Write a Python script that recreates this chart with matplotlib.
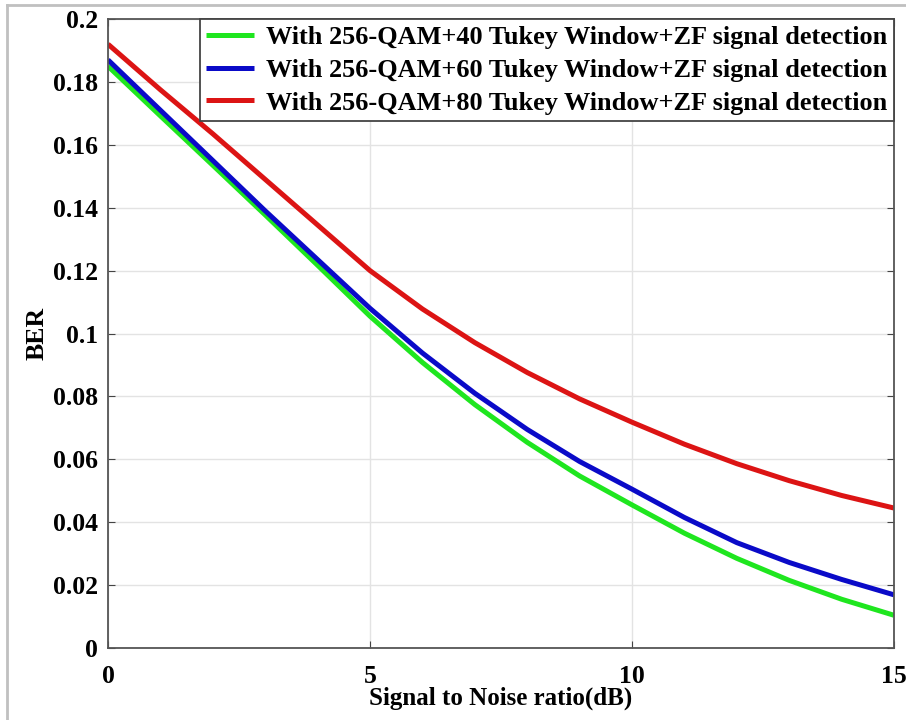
import matplotlib.pyplot as plt
from matplotlib.lines import Line2D

snr = [0, 1, 2, 3, 4, 5, 6, 7, 8, 9, 10, 11, 12, 13, 14, 15]
ber_40 = [0.185, 0.1692, 0.1535, 0.1377, 0.1217, 0.1055, 0.0908, 0.0774,
          0.0654, 0.0547, 0.0455, 0.0365, 0.0285, 0.0215, 0.0155, 0.0104]
ber_60 = [0.187, 0.171, 0.155, 0.139, 0.1235, 0.108, 0.0938, 0.0810,
          0.0695, 0.0593, 0.0505, 0.0415, 0.0335, 0.0272, 0.0218, 0.0169]
ber_80 = [0.192, 0.1775, 0.1635, 0.149, 0.1345, 0.120, 0.1078, 0.0971,
          0.0876, 0.0792, 0.0718, 0.0648, 0.0586, 0.0532, 0.0485, 0.0445]
labels = ['With 256-QAM+40 Tukey Window+ZF signal detection',
          'With 256-QAM+60 Tukey Window+ZF signal detection',
          'With 256-QAM+80 Tukey Window+ZF signal detection']

plt.rcParams['font.family'] = ['Liberation Serif', 'DejaVu Serif']
plt.rcParams['font.weight'] = 'bold'

fig = plt.figure(figsize=(9.06, 7.2), dpi=100)
ax = fig.add_axes([0.1192, 0.1, 0.8676, 0.8736])

kw = dict(lw=3.6, solid_joinstyle='round', solid_capstyle='butt')
ax.plot(snr, ber_40, color='#1fe61f', label=labels[0], **kw)
ax.plot(snr, ber_60, color='#0a0ac8', label=labels[1], **kw)
ax.plot(snr, ber_80, color='#dc1414', label=labels[2], **kw)

ax.set_xlim(0, 15)
ax.set_ylim(0, 0.2)
ax.set_xticks([0, 5, 10, 15])
ax.set_yticks([0, 0.02, 0.04, 0.06, 0.08, 0.1, 0.12, 0.14, 0.16, 0.18, 0.2])
ax.set_yticklabels(['0', '0.02', '0.04', '0.06', '0.08', '0.1', '0.12',
                    '0.14', '0.16', '0.18', '0.2'])
ax.grid(True, color='#e3e3e3', lw=1)
ax.set_axisbelow(True)
ax.tick_params(direction='in', top=True, right=True, length=5,
               labelsize=18.5, color='#444444')
ax.tick_params(axis='x', pad=12)
ax.tick_params(axis='y', pad=7)
for s in ax.spines.values():
    s.set_color('#555555')
    s.set_linewidth(1.3)

ax.set_xlabel('Signal to Noise ratio(dB)', fontsize=18, fontweight='bold', labelpad=-1)
ax.set_ylabel('BER', fontsize=18.5, fontweight='bold', labelpad=3)

leg = ax.legend(loc='upper right', fontsize=18.9, fancybox=False, framealpha=1,
                edgecolor='#444444', borderaxespad=0, handlelength=1.83,
                borderpad=0.25, labelspacing=0.36, handletextpad=0.46)
leg.get_frame().set_linewidth(1.3)

# light frame around the picture (top and left edges)
fig.add_artist(Line2D([7 / 906, 905 / 906], [1 - 5 / 720, 1 - 5 / 720],
                      color='#c0c0c0', lw=2, transform=fig.transFigure))
fig.add_artist(Line2D([7 / 906, 7 / 906], [0, 1 - 5 / 720],
                      color='#c0c0c0', lw=2, transform=fig.transFigure))

fig.savefig('out.png', dpi=100)
